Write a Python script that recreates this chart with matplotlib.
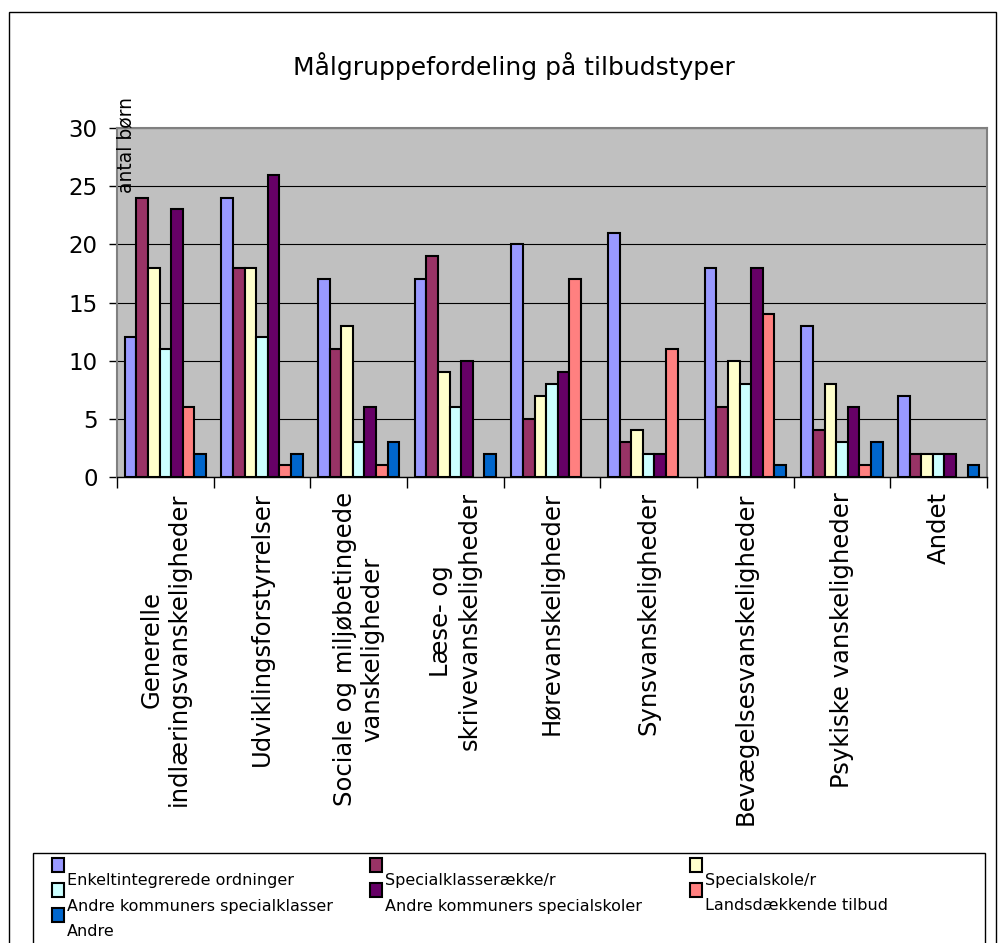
import matplotlib.pyplot as plt
from matplotlib.patches import Rectangle
import numpy as np

categories = ["Generelle\nindlæringsvanskeligheder", "Udviklingsforstyrrelser",
              "Sociale og miljøbetingede\nvanskeligheder", "Læse- og\nskrivevanskeligheder",
              "Hørevanskeligheder", "Synsvanskeligheder", "Bevægelsesvanskeligheder",
              "Psykiske vanskeligheder", "Andet"]

series_names = ["Enkeltintegrerede ordninger", "Specialklasserække/r", "Specialskole/r",
                "Andre kommuners specialklasser", "Andre kommuners specialskoler",
                "Landsdækkende tilbud", "Andre"]

nan = np.nan
enkelt = [12, 24, 17, 17, 20, 21, 18, 13, 7]
specialklasse = [24, 18, 11, 19, 5, 3, 6, 4, 2]
specialskole = [18, 18, 13, 9, 7, 4, 10, 8, 2]
andre_klasser = [11, 12, 3, 6, 8, 2, 8, 3, 2]
andre_skoler = [23, 26, 6, 10, 9, 2, 18, 6, 2]
landsdaekkende = [6, 1, 1, nan, 17, 11, 14, 1, nan]
andre = [2, 2, 3, 2, nan, nan, 1, 3, 1]

series = [enkelt, specialklasse, specialskole, andre_klasser, andre_skoler, landsdaekkende, andre]
colors = ["#9999FF", "#993366", "#FFFFCC", "#CCFFFF", "#660066", "#FF8080", "#0066CC"]

W, H = 998, 943
fig = plt.figure(figsize=(W / 100, H / 100), dpi=100)
plt.rcParams['font.family'] = ['DejaVu Sans']

# outer frame (bottom edge runs off the picture)
fig.patches.append(Rectangle((9 / W, -10 / H), (996 - 9) / W, (931 + 10) / H, transform=fig.transFigure,
                             fill=False, edgecolor='black', linewidth=1))

ax = fig.add_axes([117 / W, 1 - 477 / H, (987 - 117) / W, (477 - 128) / H])
ax.set_facecolor('#C0C0C0')

x = np.arange(len(categories))
bw = 0.12
n = len(series)
for i, vals in enumerate(series):
    ax.bar(x + (i - (n - 1) / 2) * bw, vals, width=bw, color=colors[i],
           edgecolor='black', linewidth=1.5, zorder=3)

ax.set_xlim(-0.5, len(categories) - 0.5)
ax.set_ylim(0, 30)
ax.set_yticks(range(0, 31, 5))
ax.yaxis.grid(True, color='black', linewidth=0.8, zorder=0)
ax.set_axisbelow(True)
ax.tick_params(axis='y', labelsize=16.5, length=6, width=1, direction='out', pad=8)

ax.set_xticks(x)
ax.set_xticklabels(categories, rotation=90, fontsize=17.5, va='top', ha='center',
                   multialignment='center')
ax.set_xticks(np.arange(-0.5, len(categories)), minor=True)
ax.tick_params(axis='x', which='major', length=0, pad=11)
ax.tick_params(axis='x', which='minor', length=8, width=1, direction='out')

for side in ['top', 'right', 'left']:
    ax.spines[side].set_color('#808080')
    ax.spines[side].set_linewidth(1.5)
ax.spines['bottom'].set_color('black')
ax.spines['bottom'].set_linewidth(1)

fig.text(514 / W, 1 - 66 / H, "Målgruppefordeling på tilbudstyper", ha='center', va='center',
         fontsize=18)
fig.text(126 / W, 1 - 145 / H, "antal børn", rotation=90, ha='center', va='center', fontsize=13.5)

# legend box (bottom edge runs off the picture)
fig.patches.append(Rectangle((33 / W, -10 / H), (985 - 33) / W, (H - 853 + 10) / H,
                             transform=fig.transFigure, fill=False, edgecolor='black', linewidth=1))
col_x = [52, 370, 690]
row_y = [858, 883, 908]
for i, name in enumerate(series_names):
    r, c = i // 3, i % 3
    mx, my = col_x[c], row_y[r]
    fig.patches.append(Rectangle((mx / W, 1 - (my + 14) / H), 12 / W, 14 / H,
                                 transform=fig.transFigure, facecolor=colors[i],
                                 edgecolor='black', linewidth=1.5))
    fig.text((mx + 15) / W, 1 - (my + 23) / H, name, ha='left', va='center', fontsize=11.5)

fig.savefig("out.png", dpi=100)
